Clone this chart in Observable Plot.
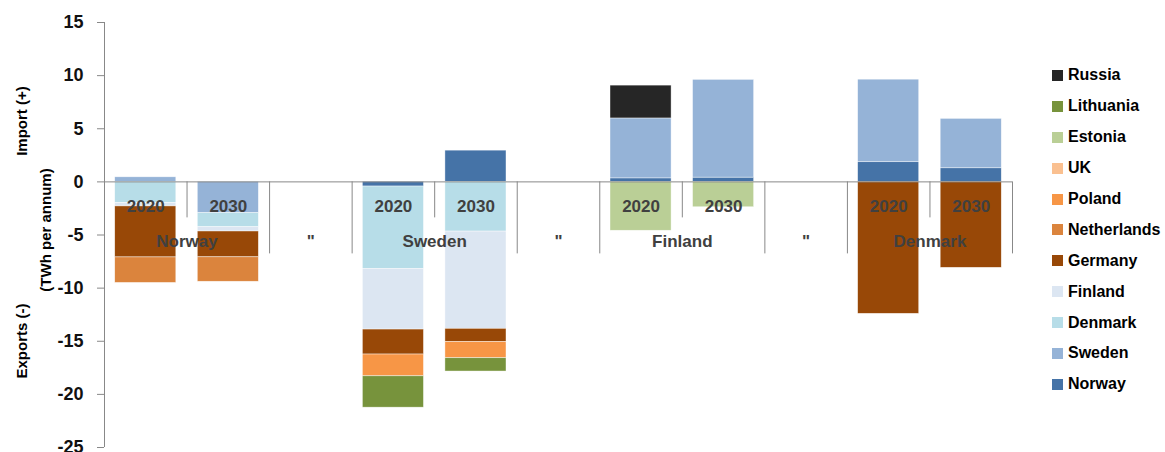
<!DOCTYPE html>
<html>
<head>
<meta charset="utf-8">
<script src="https://cdn.jsdelivr.net/npm/d3@7"></script>
<script src="https://cdn.jsdelivr.net/npm/@observablehq/plot@0.6"></script>
<style>
  html, body { margin: 0; padding: 0; background: #fff; }
  #wrap { position: relative; width: 1165px; height: 452px; font-family: "Liberation Sans", Arial, sans-serif; }
  #chart { position: absolute; left: 0; top: 0; }
  .ytitle { position: absolute; font-weight: bold; font-size: 15px; color: #000; white-space: nowrap;
            transform: translate(-50%, -50%) rotate(-90deg); }
  #legend { position: absolute; left: 1052px; top: 60px; }
  .li { height: 30.9px; display: flex; align-items: center; font-weight: bold; font-size: 16px; color: #000; }
  .sw { width: 11px; height: 11px; margin-right: 5px; }
</style>
</head>
<body>
<div id="wrap">
  <div id="chart"></div>
  <div class="ytitle" style="left:21px; top:121px;">Import (+)</div>
  <div class="ytitle" style="left:45px; top:230px;">(TWh per annum)</div>
  <div class="ytitle" style="left:21px; top:341px;">Exports (-)</div>
  <div id="legend"></div>
</div>
<script>
// ---- data ----
const slotGroup = ["Norway", "Norway", "\"", "Sweden", "Sweden", "\"", "Finland", "Finland", "\"", "Denmark", "Denmark"];
const slotYear  = ["2020", "2030", "", "2020", "2030", "", "2020", "2030", "", "2020", "2030"];

const series = ["Norway", "Sweden", "Denmark", "Finland", "Germany", "Netherlands", "Poland", "UK", "Estonia", "Lithuania", "Russia"];
const seriesColors = ["#4573A7", "#95B3D7", "#B7DDE8", "#DCE6F2", "#984807", "#DB843D", "#F79646", "#FAC090", "#BACF96", "#77933C", "#262626"];

const norway      = [0, 0, 0, -0.44, 2.94, 0, 0.33, 0.40, 0, 1.85, 1.28];
const sweden      = [0.43, -2.95, 0, 0, 0, 0, 5.64, 9.20, 0, 7.77, 4.65];
const denmark     = [-1.98, -1.32, 0, -7.74, -4.68, 0, 0, 0, 0, 0, 0];
const finland     = [-0.33, -0.40, 0, -5.72, -9.15, 0, 0, 0, 0, 0, 0];
const germany     = [-4.80, -2.43, 0, -2.35, -1.25, 0, 0, 0, 0, -12.42, -8.09];
const netherlands = [-2.40, -2.30, 0, 0, 0, 0, 0, 0, 0, 0, 0];
const poland      = [0, 0, 0, -2.05, -1.52, 0, 0, 0, 0, 0, 0];
const uk          = [0, 0, 0, 0, 0, 0, 0, 0, 0, 0, 0];
const estonia     = [0, 0, 0, 0, 0, 0, -4.60, -2.39, 0, 0, 0];
const lithuania   = [0, 0, 0, -2.95, -1.25, 0, 0, 0, 0, 0, 0];
const russia      = [0, 0, 0, 0, 0, 0, 3.09, 0, 0, 0, 0];

const yTicks = [-25, -20, -15, -10, -5, 0, 5, 10, 15];

// ---- build stacked rows ----
const valuesBySeries = [norway, sweden, denmark, finland, germany, netherlands, poland, uk, estonia, lithuania, russia];
const rows = [];
slotGroup.forEach((g, i) => {
  let pos = 0, neg = 0;
  series.forEach((s, k) => {
    const v = valuesBySeries[k][i];
    if (!v) return;
    if (v > 0) { rows.push({i, series: s, y1: pos, y2: pos + v}); pos += v; }
    else { rows.push({i, series: s, y1: neg, y2: neg + v}); neg += v; }
  });
});

const n = slotGroup.length;
const barHalf = 0.37;
const innerTicks = slotYear.map((y, i) => i).filter(i => slotYear[i] === "2020" && slotGroup[i + 1] === slotGroup[i]).map(i => i + 0.5);
const separators = [-0.5];
for (let i = 0; i < n - 1; i++) if (slotGroup[i] !== slotGroup[i + 1]) separators.push(i + 0.5);
separators.push(n - 0.5);

const yearLabels = slotYear.map((t, i) => ({x: i, t})).filter(d => d.t);
const groupLabels = [];
slotGroup.forEach((g, i) => {
  if (i > 0 && slotGroup[i - 1] === g) return;
  let j = i; while (j + 1 < n && slotGroup[j + 1] === g) j++;
  groupLabels.push({x: (i + j) / 2, t: g});
});

const grey = "#888888";

const plot = Plot.plot({
  width: 1035,
  height: 452,
  marginLeft: 104,
  marginRight: 23,
  marginTop: 22,
  marginBottom: 5,
  style: {fontFamily: "'Liberation Sans', Arial, sans-serif", background: "transparent", overflow: "visible"},
  x: {type: "linear", domain: [-0.5, n - 0.5], axis: null},
  y: {domain: [-25, 15], axis: null},
  color: {domain: series, range: seriesColors},
  marks: [
    Plot.rect(rows, {x1: d => d.i - barHalf, x2: d => d.i + barHalf, y1: "y1", y2: "y2", fill: "series",
                     stroke: "white", strokeWidth: 0.6, strokeOpacity: 0.7}),
    Plot.ruleX([-0.5], {stroke: grey}),
    Plot.axisY({ticks: yTicks, tickSize: 7, tickPadding: 14, fontSize: 18, fontWeight: "bold",
                stroke: grey, fill: "#111", label: null, tickFormat: d => String(d)}),
    Plot.ruleY([0], {stroke: grey}),
    Plot.ruleX(innerTicks, {x: d => d, y1: 0, y2: 0, insetBottom: -36, stroke: grey}),
    Plot.ruleX(separators, {x: d => d, y1: 0, y2: 0, insetBottom: -72, stroke: grey}),
    Plot.text(yearLabels, {x: "x", y: 0, dy: 25, text: "t", fontSize: 17, fontWeight: "bold", fill: "#404040"}),
    Plot.text(groupLabels, {x: "x", y: 0, dy: 60, text: "t", fontSize: 17, fontWeight: "bold", fill: "#404040"})
  ]
});
document.getElementById("chart").appendChild(plot);

// ---- legend ----
const legend = document.getElementById("legend");
series.slice().reverse().forEach(s => {
  const k = series.indexOf(s);
  const row = document.createElement("div");
  row.className = "li";
  const sw = document.createElement("div");
  sw.className = "sw";
  sw.style.background = seriesColors[k];
  row.appendChild(sw);
  row.appendChild(document.createTextNode(s));
  legend.appendChild(row);
});
</script>
</body>
</html>
